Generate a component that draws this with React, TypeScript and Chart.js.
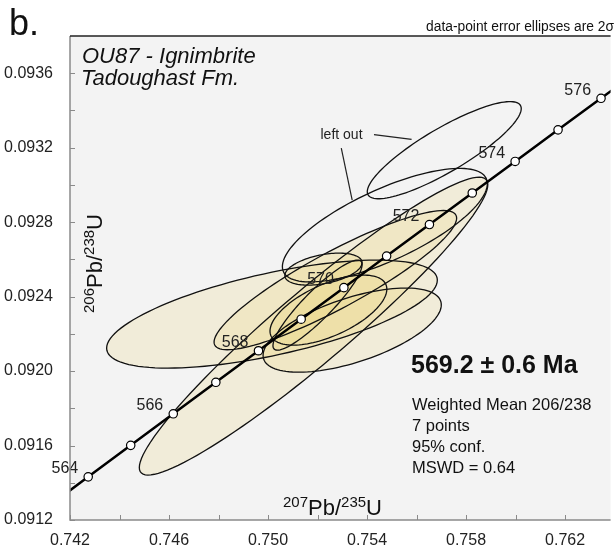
import React, { useEffect, useRef } from "react";
import { Chart, registerables } from "chart.js";
Chart.register(...registerables);

// Concordia curve (age in Ma, 207Pb/235U, 206Pb/238U)
const concordiaAges = [563, 564, 565, 566, 567, 568, 569, 570, 571, 572, 573, 574, 575, 576, 577];
const concordiaPb207U235 = [0.7410201, 0.7427356, 0.7444528, 0.7461717, 0.7478922, 0.7496144, 0.7513384, 0.753064, 0.7547913, 0.7565203, 0.7582511, 0.7599834, 0.7617175, 0.7634533, 0.7651907];
const concordiaPb206U238 = [0.0912625, 0.0914318, 0.0916011, 0.0917705, 0.0919398, 0.0921092, 0.0922786, 0.0924481, 0.0926176, 0.0927871, 0.0929567, 0.0931262, 0.0932958, 0.0934654, 0.093635];
const labelledAges = [564, 566, 568, 570, 572, 574, 576];

// Axis ticks
const xTickValues = [0.742, 0.744, 0.746, 0.748, 0.75, 0.752, 0.754, 0.756, 0.758, 0.76, 0.762];
const xTickLabels = ["0.742", "", "0.746", "", "0.750", "", "0.754", "", "0.758", "", "0.762"];
const yTickValues = [0.0912, 0.0914, 0.0916, 0.0918, 0.092, 0.0922, 0.0924, 0.0926, 0.0928, 0.093, 0.0932, 0.0934, 0.0936];
const yTickLabels = ["0.0912", "", "0.0916", "", "0.0920", "", "0.0924", "", "0.0928", "", "0.0932", "", "0.0936"];
const xMin = 0.742;
const xMax = 0.76384;
const yMin = 0.0912;
const yMax = 0.0938;

// Data-point error ellipses (2 sigma): centre, half-extents, error correlation
const ellipseX = [0.75712, 0.75472, 0.75016, 0.75184, 0.75272, 0.75244, 0.75224, 0.7534, 0.752];
const ellipseY = [0.0931866, 0.0927839, 0.092306, 0.0922416, 0.0924886, 0.0923275, 0.0925477, 0.0922201, 0.0923544];
const ellipseSX = [0.00311, 0.00414, 0.00668, 0.00704, 0.0049, 0.00236, 0.00156, 0.0036, 0.0018];
const ellipseSY = [0.000261, 0.000305, 0.00029, 0.0008, 0.000374, 0.000188, 0.0000859, 0.000226, 0.000242];
const ellipseRho = [0.855, 0.73, 0.63, 0.95, 0.89, 0.6, 0.4, 0.6, 0.9];
const ellipseUsed = [false, false, true, true, true, true, true, true, true];

// "left out" annotation (data units)
const leftOutLabel = { x: 0.75212, y: 0.09327 };
const leftOutTargets = [
  { from: [0.75428, 0.09327], to: [0.7558, 0.093245] },
  { from: [0.75296, 0.0931973], to: [0.7534, 0.0929181] },
];

const FONT = "'Liberation Sans', Arial, sans-serif";

function drawRich(ctx: CanvasRenderingContext2D, parts: { t: string; sup?: boolean }[], x: number, y: number) {
  let cx = x;
  for (const p of parts) {
    ctx.font = p.sup ? `15px ${FONT}` : `22px ${FONT}`;
    ctx.fillText(p.t, cx, p.sup ? y - 8 : y);
    cx += ctx.measureText(p.t).width;
  }
}

const concordiaPlugin = {
  id: "concordiaPlugin",
  beforeDraw(chart: any) {
    const { ctx, chartArea: ca } = chart;
    ctx.save();
    ctx.fillStyle = "#f3f3f3";
    ctx.fillRect(ca.left, ca.top, ca.right - ca.left, ca.bottom - ca.top);
    ctx.restore();
  },
  beforeDatasetsDraw(chart: any) {
    const { ctx, chartArea: ca } = chart;
    const xs = chart.scales.x;
    const ys = chart.scales.y;
    ctx.save();
    ctx.beginPath();
    ctx.rect(ca.left, ca.top, ca.right - ca.left, ca.bottom - ca.top);
    ctx.clip();
    const path = (i: number) => {
      ctx.beginPath();
      const N = 120;
      const r = ellipseRho[i];
      const q = Math.sqrt(1 - r * r);
      for (let k = 0; k <= N; k++) {
        const th = (2 * Math.PI * k) / N;
        const dx = ellipseSX[i] * Math.cos(th);
        const dy = ellipseSY[i] * (r * Math.cos(th) + q * Math.sin(th));
        const px = xs.getPixelForValue(ellipseX[i] + dx);
        const py = ys.getPixelForValue(ellipseY[i] + dy);
        if (k === 0) ctx.moveTo(px, py);
        else ctx.lineTo(px, py);
      }
      ctx.closePath();
    };
    for (let i = 0; i < ellipseX.length; i++) {
      if (!ellipseUsed[i]) continue;
      path(i);
      ctx.fillStyle = "rgba(236, 214, 128, 0.22)";
      ctx.fill();
    }
    ctx.lineWidth = 1.3;
    ctx.strokeStyle = "#111";
    for (let i = 0; i < ellipseX.length; i++) {
      path(i);
      ctx.stroke();
    }
    ctx.restore();
  },
  afterDatasetsDraw(chart: any) {
    const { ctx } = chart;
    const xs = chart.scales.x;
    const ys = chart.scales.y;
    ctx.save();
    ctx.fillStyle = "#222";
    ctx.font = `16px ${FONT}`;
    ctx.textAlign = "right";
    ctx.textBaseline = "middle";
    for (const age of labelledAges) {
      const i = concordiaAges.indexOf(age);
      const px = xs.getPixelForValue(concordiaPb207U235[i]);
      const py = ys.getPixelForValue(concordiaPb206U238[i]);
      ctx.fillText(String(age), px - 10, py - 8);
    }
    ctx.font = `14px ${FONT}`;
    ctx.textAlign = "left";
    ctx.fillText("left out", xs.getPixelForValue(leftOutLabel.x), ys.getPixelForValue(leftOutLabel.y));
    ctx.strokeStyle = "#222";
    ctx.lineWidth = 1.2;
    for (const t of leftOutTargets) {
      ctx.beginPath();
      ctx.moveTo(xs.getPixelForValue(t.from[0]), ys.getPixelForValue(t.from[1]));
      ctx.lineTo(xs.getPixelForValue(t.to[0]), ys.getPixelForValue(t.to[1]));
      ctx.stroke();
    }
    ctx.restore();
  },
  afterDraw(chart: any) {
    const { ctx, chartArea: ca } = chart;
    const xs = chart.scales.x;
    const ys = chart.scales.y;
    ctx.save();
    ctx.strokeStyle = "#8a8a8a";
    ctx.lineWidth = 1.5;
    ctx.beginPath();
    ctx.moveTo(ca.left, ca.top);
    ctx.lineTo(ca.left, ca.bottom);
    ctx.lineTo(ca.right, ca.bottom);
    ctx.stroke();
    ctx.lineWidth = 1;
    for (const v of yTickValues) {
      const py = Math.round(ys.getPixelForValue(v)) + 0.5;
      ctx.beginPath();
      ctx.moveTo(ca.left, py);
      ctx.lineTo(ca.left + 5, py);
      ctx.stroke();
    }
    for (const v of xTickValues) {
      const px = Math.round(xs.getPixelForValue(v)) + 0.5;
      ctx.beginPath();
      ctx.moveTo(px, ca.bottom);
      ctx.lineTo(px, ca.bottom - 5);
      ctx.stroke();
    }
    ctx.strokeStyle = "#222";
    ctx.lineWidth = 1.5;
    ctx.beginPath();
    ctx.moveTo(ca.left, ca.top);
    ctx.lineTo(ca.right, ca.top);
    ctx.stroke();

    ctx.fillStyle = "#111";
    ctx.textBaseline = "alphabetic";
    ctx.textAlign = "left";
    ctx.font = `36px ${FONT}`;
    ctx.fillText("b.", 9, 35);
    ctx.font = `13.8px ${FONT}`;
    ctx.textAlign = "right";
    ctx.fillText("data-point error ellipses are 2\u03c3", 614, 31);
    ctx.textAlign = "left";
    ctx.font = `italic 22px ${FONT}`;
    ctx.fillText("OU87 - Ignimbrite", ca.left + 12, 63);
    ctx.fillText("Tadoughast Fm.", ca.left + 11, 85);

    drawRich(ctx, [{ t: "207", sup: true }, { t: "Pb/" }, { t: "235", sup: true }, { t: "U" }], 283, 515);
    ctx.save();
    ctx.translate(102, 313);
    ctx.rotate(-Math.PI / 2);
    drawRich(ctx, [{ t: "206", sup: true }, { t: "Pb/" }, { t: "238", sup: true }, { t: "U" }], 0, 0);
    ctx.restore();

    ctx.font = `bold 25px ${FONT}`;
    ctx.fillText("569.2 \u00b1 0.6 Ma", 411, 373);
    ctx.font = `16.5px ${FONT}`;
    ctx.fillText("Weighted Mean 206/238", 412, 410);
    ctx.fillText("7 points", 412, 431);
    ctx.fillText("95% conf.", 412, 452);
    ctx.fillText("MSWD = 0.64", 412, 473);
    ctx.restore();
  },
};

export default function App() {
  const ref = useRef<HTMLCanvasElement | null>(null);
  useEffect(() => {
    document.body.style.margin = "0";
    const canvas = ref.current!;
    const points = concordiaAges.map((a, i) => ({ x: concordiaPb207U235[i], y: concordiaPb206U238[i] }));
    const chart = new Chart(canvas, {
      type: "scatter",
      data: {
        datasets: [
          {
            data: points,
            showLine: true,
            borderColor: "#000",
            borderWidth: 2.5,
            pointRadius: 4.2,
            pointBackgroundColor: "#fff",
            pointBorderColor: "#000",
            pointBorderWidth: 1.2,
            clip: 0,
          } as any,
        ],
      },
      options: {
        responsive: false,
        animation: false,
        devicePixelRatio: 1,
        layout: { padding: { top: 36, right: 0, left: 0, bottom: 0 } },
        plugins: { legend: { display: false }, tooltip: { enabled: false } },
        scales: {
          x: {
            type: "linear",
            min: xMin,
            max: xMax,
            grid: { display: false, drawTicks: false },
            border: { display: false },
            afterBuildTicks: (s: any) => {
              s.ticks = xTickValues.map((v) => ({ value: v }));
            },
            afterFit: (s: any) => {
              s.height = 36;
            },
            ticks: {
              autoSkip: false,
              maxRotation: 0,
              padding: 11,
              color: "#222",
              font: { family: FONT, size: 16 },
              callback: (_v: any, i: number) => xTickLabels[i],
            },
          },
          y: {
            type: "linear",
            min: yMin,
            max: yMax,
            grid: { display: false, drawTicks: false },
            border: { display: false },
            afterBuildTicks: (s: any) => {
              s.ticks = yTickValues.map((v) => ({ value: v }));
            },
            afterFit: (s: any) => {
              s.width = 70;
            },
            ticks: {
              autoSkip: false,
              padding: 17,
              color: "#222",
              font: { family: FONT, size: 16 },
              callback: (_v: any, i: number) => yTickLabels[i],
            },
          },
        },
      },
      plugins: [concordiaPlugin],
    });
    return () => chart.destroy();
  }, []);
  return (
    <div style={{ width: 616, height: 556, background: "#fff" }}>
      <canvas ref={ref} width={616} height={556} style={{ display: "block" }} />
    </div>
  );
}
